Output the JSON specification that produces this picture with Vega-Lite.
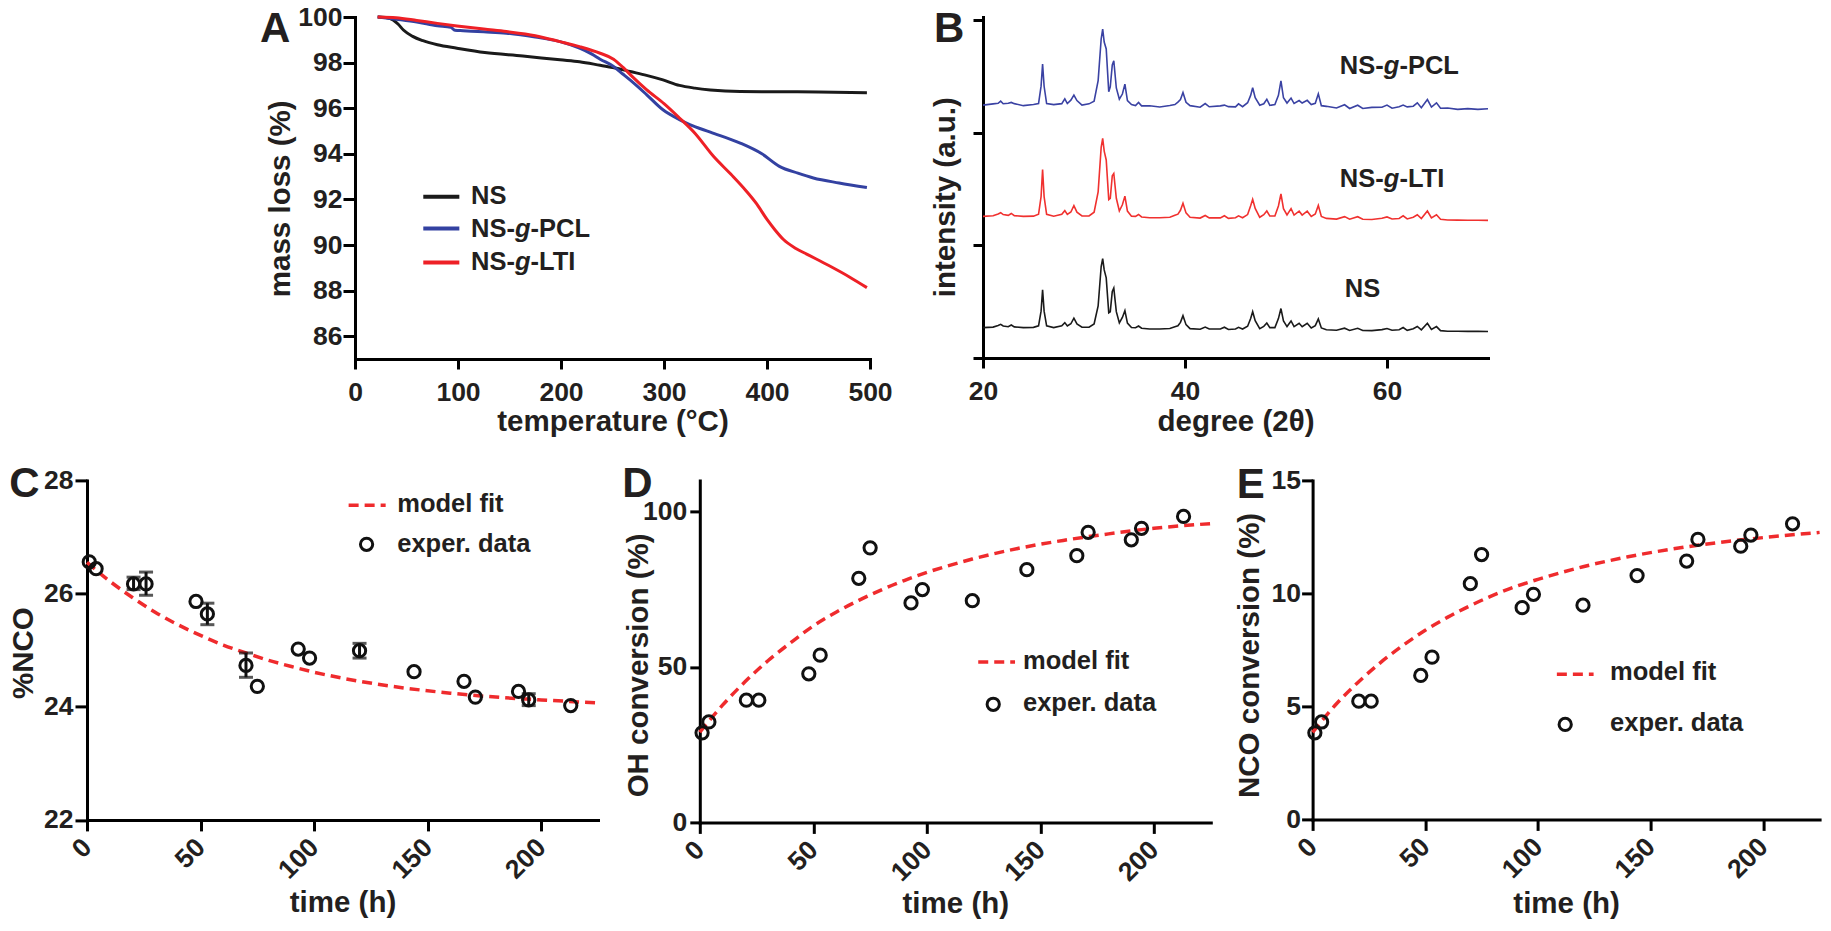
{
"$schema":"https://vega.github.io/schema/vega-lite/v6.json",
"background":"white",
"padding":{"left":8,"top":4,"right":2,"bottom":2},
"autosize":{"type":"pad"},
"spacing":26.4,
"config":{
 "view":{"stroke":null},
 "font":"Liberation Sans",
 "axis":{"domainColor":"#000","domainWidth":3,"domainCap":"square","tickColor":"#000","tickWidth":3,"tickSize":11,"labelFont":"Liberation Sans","labelFontSize":26.5,"labelFontWeight":"bold","labelColor":"#231f20","titleFont":"Liberation Sans","titleFontSize":29.5,"titleFontWeight":"bold","titleColor":"#231f20","grid":false,"labelFlush":false,"labelOverlap":false,"labelBound":false},
 "text":{"font":"Liberation Sans","fontWeight":"bold","fontSize":25.5,"color":"#231f20"}
},
"datasets":{
 "tga":[
  {"s":"NS","x":22,"y":100},{"s":"NS","x":30,"y":99.98},{"s":"NS","x":37,"y":99.87},{"s":"NS","x":42,"y":99.68},{"s":"NS","x":47,"y":99.43},{"s":"NS","x":56,"y":99.15},{"s":"NS","x":66,"y":98.96},{"s":"NS","x":80,"y":98.78},{"s":"NS","x":99,"y":98.63},{"s":"NS","x":126,"y":98.44},{"s":"NS","x":163,"y":98.29},{"s":"NS","x":199,"y":98.12},{"s":"NS","x":218,"y":98.04},{"s":"NS","x":238,"y":97.88},{"s":"NS","x":255,"y":97.74},{"s":"NS","x":267,"y":97.61},{"s":"NS","x":283,"y":97.44},{"s":"NS","x":299,"y":97.24},{"s":"NS","x":315,"y":97.0},{"s":"NS","x":330,"y":96.88},{"s":"NS","x":345,"y":96.8},{"s":"NS","x":374,"y":96.73},{"s":"NS","x":412,"y":96.72},{"s":"NS","x":450,"y":96.71},{"s":"NS","x":497,"y":96.68},
  {"s":"NS-g-PCL","x":22,"y":100},{"s":"NS-g-PCL","x":40,"y":99.9},{"s":"NS-g-PCL","x":60,"y":99.78},{"s":"NS-g-PCL","x":80,"y":99.62},{"s":"NS-g-PCL","x":93,"y":99.55},{"s":"NS-g-PCL","x":97,"y":99.42},{"s":"NS-g-PCL","x":105,"y":99.4},{"s":"NS-g-PCL","x":125,"y":99.35},{"s":"NS-g-PCL","x":147,"y":99.29},{"s":"NS-g-PCL","x":175,"y":99.12},{"s":"NS-g-PCL","x":199,"y":98.92},{"s":"NS-g-PCL","x":218,"y":98.63},{"s":"NS-g-PCL","x":230,"y":98.37},{"s":"NS-g-PCL","x":238,"y":98.15},{"s":"NS-g-PCL","x":251,"y":97.83},{"s":"NS-g-PCL","x":260,"y":97.5},{"s":"NS-g-PCL","x":267,"y":97.24},{"s":"NS-g-PCL","x":283,"y":96.6},{"s":"NS-g-PCL","x":299,"y":95.93},{"s":"NS-g-PCL","x":315,"y":95.5},{"s":"NS-g-PCL","x":325,"y":95.28},{"s":"NS-g-PCL","x":345,"y":94.95},{"s":"NS-g-PCL","x":374,"y":94.47},{"s":"NS-g-PCL","x":395,"y":94.0},{"s":"NS-g-PCL","x":412,"y":93.45},{"s":"NS-g-PCL","x":430,"y":93.15},{"s":"NS-g-PCL","x":445,"y":92.94},{"s":"NS-g-PCL","x":470,"y":92.72},{"s":"NS-g-PCL","x":497,"y":92.52},
  {"s":"NS-g-LTI","x":22,"y":100},{"s":"NS-g-LTI","x":40,"y":99.97},{"s":"NS-g-LTI","x":60,"y":99.85},{"s":"NS-g-LTI","x":80,"y":99.72},{"s":"NS-g-LTI","x":99,"y":99.61},{"s":"NS-g-LTI","x":125,"y":99.47},{"s":"NS-g-LTI","x":147,"y":99.36},{"s":"NS-g-LTI","x":175,"y":99.18},{"s":"NS-g-LTI","x":199,"y":98.92},{"s":"NS-g-LTI","x":218,"y":98.7},{"s":"NS-g-LTI","x":238,"y":98.41},{"s":"NS-g-LTI","x":251,"y":98.15},{"s":"NS-g-LTI","x":260,"y":97.8},{"s":"NS-g-LTI","x":270,"y":97.35},{"s":"NS-g-LTI","x":283,"y":96.81},{"s":"NS-g-LTI","x":300,"y":96.2},{"s":"NS-g-LTI","x":315,"y":95.57},{"s":"NS-g-LTI","x":330,"y":94.9},{"s":"NS-g-LTI","x":348,"y":93.89},{"s":"NS-g-LTI","x":365,"y":93.1},{"s":"NS-g-LTI","x":380,"y":92.36},{"s":"NS-g-LTI","x":390,"y":91.8},{"s":"NS-g-LTI","x":400,"y":91.12},{"s":"NS-g-LTI","x":408,"y":90.65},{"s":"NS-g-LTI","x":416,"y":90.24},{"s":"NS-g-LTI","x":428,"y":89.85},{"s":"NS-g-LTI","x":439,"y":89.59},{"s":"NS-g-LTI","x":460,"y":89.1},{"s":"NS-g-LTI","x":480,"y":88.6},{"s":"NS-g-LTI","x":497,"y":88.13}
 ],
 "xrdNS":[
  {"x":20,"y":0.270},{"x":21,"y":0.274},{"x":21.5,"y":0.289},{"x":21.75,"y":0.299},{"x":22,"y":0.284},{"x":22.5,"y":0.278},{"x":22.8,"y":0.293},{"x":23.1,"y":0.276},{"x":24,"y":0.270},{"x":25,"y":0.272},{"x":25.5,"y":0.286},{"x":25.75,"y":0.416},{"x":25.9,"y":0.606},{"x":26.05,"y":0.416},{"x":26.3,"y":0.286},{"x":27,"y":0.270},{"x":27.8,"y":0.285},{"x":28.1,"y":0.314},{"x":28.35,"y":0.284},{"x":28.7,"y":0.304},{"x":29,"y":0.354},{"x":29.3,"y":0.303},{"x":29.8,"y":0.273},{"x":30.5,"y":0.273},{"x":31,"y":0.302},{"x":31.4,"y":0.462},{"x":31.7,"y":0.812},{"x":31.85,"y":0.882},{"x":32,"y":0.782},{"x":32.2,"y":0.711},{"x":32.45,"y":0.401},{"x":32.6,"y":0.411},{"x":32.8,"y":0.591},{"x":32.95,"y":0.621},{"x":33.2,"y":0.411},{"x":33.5,"y":0.311},{"x":33.8,"y":0.360},{"x":34.05,"y":0.420},{"x":34.3,"y":0.310},{"x":34.7,"y":0.270},{"x":35.1,"y":0.269},{"x":35.4,"y":0.284},{"x":35.7,"y":0.264},{"x":36.5,"y":0.258},{"x":37.5,"y":0.258},{"x":38.5,"y":0.262},{"x":39,"y":0.277},{"x":39.3,"y":0.286},{"x":39.55,"y":0.316},{"x":39.8,"y":0.376},{"x":40.1,"y":0.296},{"x":40.5,"y":0.261},{"x":41.5,"y":0.255},{"x":42,"y":0.275},{"x":42.4,"y":0.257},{"x":43.5,"y":0.257},{"x":43.9,"y":0.273},{"x":44.3,"y":0.253},{"x":45,"y":0.257},{"x":45.3,"y":0.272},{"x":45.7,"y":0.257},{"x":46.2,"y":0.282},{"x":46.5,"y":0.351},{"x":46.7,"y":0.411},{"x":46.95,"y":0.331},{"x":47.4,"y":0.261},{"x":47.8,"y":0.281},{"x":48.1,"y":0.310},{"x":48.4,"y":0.270},{"x":48.9,"y":0.270},{"x":49.25,"y":0.350},{"x":49.5,"y":0.439},{"x":49.75,"y":0.329},{"x":50.1,"y":0.279},{"x":50.5,"y":0.329},{"x":50.8,"y":0.278},{"x":51.3,"y":0.308},{"x":51.6,"y":0.278},{"x":52.1,"y":0.308},{"x":52.5,"y":0.267},{"x":52.9,"y":0.287},{"x":53.2,"y":0.347},{"x":53.5,"y":0.267},{"x":54,"y":0.251},{"x":55,"y":0.246},{"x":55.8,"y":0.265},{"x":56.3,"y":0.245},{"x":57.1,"y":0.264},{"x":57.6,"y":0.244},{"x":58.5,"y":0.243},{"x":59.5,"y":0.252},{"x":60,"y":0.262},{"x":60.5,"y":0.247},{"x":61.2,"y":0.251},{"x":61.6,"y":0.271},{"x":62,"y":0.246},{"x":62.6,"y":0.260},{"x":63,"y":0.280},{"x":63.4,"y":0.250},{"x":64,"y":0.309},{"x":64.4,"y":0.254},{"x":64.9,"y":0.279},{"x":65.3,"y":0.243},{"x":66,"y":0.238},{"x":67,"y":0.237},{"x":68,"y":0.236},{"x":69,"y":0.236},{"x":70,"y":0.235}
 ],
 "xrdLTI":[
  {"x":20,"y":1.257},{"x":21,"y":1.262},{"x":21.5,"y":1.279},{"x":21.75,"y":1.290},{"x":22,"y":1.273},{"x":22.5,"y":1.266},{"x":22.8,"y":1.283},{"x":23.1,"y":1.264},{"x":24,"y":1.257},{"x":25,"y":1.259},{"x":25.5,"y":1.276},{"x":25.75,"y":1.433},{"x":25.9,"y":1.673},{"x":26.05,"y":1.433},{"x":26.3,"y":1.276},{"x":27,"y":1.258},{"x":27.8,"y":1.275},{"x":28.1,"y":1.308},{"x":28.35,"y":1.274},{"x":28.7,"y":1.296},{"x":29,"y":1.353},{"x":29.3,"y":1.295},{"x":29.8,"y":1.261},{"x":30.5,"y":1.261},{"x":31,"y":1.294},{"x":31.4,"y":1.475},{"x":31.7,"y":1.869},{"x":31.85,"y":1.949},{"x":32,"y":1.837},{"x":32.2,"y":1.758},{"x":32.45,"y":1.406},{"x":32.6,"y":1.418},{"x":32.8,"y":1.618},{"x":32.95,"y":1.638},{"x":33.2,"y":1.418},{"x":33.5,"y":1.305},{"x":33.8,"y":1.360},{"x":34.05,"y":1.437},{"x":34.3,"y":1.304},{"x":34.7,"y":1.258},{"x":35.1,"y":1.257},{"x":35.4,"y":1.274},{"x":35.7,"y":1.252},{"x":36.5,"y":1.245},{"x":37.5,"y":1.245},{"x":38.5,"y":1.250},{"x":39,"y":1.267},{"x":39.3,"y":1.277},{"x":39.55,"y":1.311},{"x":39.8,"y":1.373},{"x":40.1,"y":1.288},{"x":40.5,"y":1.249},{"x":41.5,"y":1.242},{"x":42,"y":1.265},{"x":42.4,"y":1.244},{"x":43.5,"y":1.244},{"x":43.9,"y":1.263},{"x":44.3,"y":1.240},{"x":45,"y":1.245},{"x":45.3,"y":1.262},{"x":45.7,"y":1.245},{"x":46.2,"y":1.273},{"x":46.5,"y":1.351},{"x":46.7,"y":1.408},{"x":46.95,"y":1.328},{"x":47.4,"y":1.249},{"x":47.8,"y":1.272},{"x":48.1,"y":1.305},{"x":48.4,"y":1.260},{"x":48.9,"y":1.260},{"x":49.25,"y":1.350},{"x":49.5,"y":1.456},{"x":49.75,"y":1.326},{"x":50.1,"y":1.270},{"x":50.5,"y":1.326},{"x":50.8,"y":1.269},{"x":51.3,"y":1.303},{"x":51.6,"y":1.269},{"x":52.1,"y":1.303},{"x":52.5,"y":1.257},{"x":52.9,"y":1.279},{"x":53.2,"y":1.354},{"x":53.5,"y":1.257},{"x":54,"y":1.239},{"x":55,"y":1.233},{"x":55.8,"y":1.255},{"x":56.3,"y":1.232},{"x":57.1,"y":1.254},{"x":57.6,"y":1.231},{"x":58.5,"y":1.230},{"x":59.5,"y":1.240},{"x":60,"y":1.252},{"x":60.5,"y":1.234},{"x":61.2,"y":1.239},{"x":61.6,"y":1.262},{"x":62,"y":1.234},{"x":62.6,"y":1.250},{"x":63,"y":1.272},{"x":63.4,"y":1.238},{"x":64,"y":1.305},{"x":64.4,"y":1.243},{"x":64.9,"y":1.271},{"x":65.3,"y":1.231},{"x":66,"y":1.225},{"x":67,"y":1.224},{"x":68,"y":1.223},{"x":69,"y":1.223},{"x":70,"y":1.222}
 ],
 "xrdPCL":[
  {"x":20,"y":2.245},{"x":21,"y":2.256},{"x":21.5,"y":2.261},{"x":21.75,"y":2.280},{"x":22,"y":2.257},{"x":22.5,"y":2.261},{"x":22.8,"y":2.269},{"x":23.1,"y":2.258},{"x":24,"y":2.240},{"x":25,"y":2.250},{"x":25.5,"y":2.259},{"x":25.75,"y":2.413},{"x":25.9,"y":2.609},{"x":26.05,"y":2.412},{"x":26.3,"y":2.258},{"x":27,"y":2.249},{"x":27.8,"y":2.258},{"x":28.1,"y":2.301},{"x":28.35,"y":2.259},{"x":28.7,"y":2.289},{"x":29,"y":2.333},{"x":29.3,"y":2.285},{"x":29.8,"y":2.245},{"x":30.5,"y":2.256},{"x":31,"y":2.279},{"x":31.4,"y":2.463},{"x":31.7,"y":2.832},{"x":31.85,"y":2.920},{"x":32,"y":2.805},{"x":32.2,"y":2.743},{"x":32.45,"y":2.364},{"x":32.6,"y":2.407},{"x":32.8,"y":2.601},{"x":32.95,"y":2.639},{"x":33.2,"y":2.397},{"x":33.5,"y":2.298},{"x":33.8,"y":2.343},{"x":34.05,"y":2.431},{"x":34.3,"y":2.285},{"x":34.7,"y":2.249},{"x":35.1,"y":2.241},{"x":35.4,"y":2.269},{"x":35.7,"y":2.238},{"x":36.5,"y":2.239},{"x":37.5,"y":2.228},{"x":38.5,"y":2.241},{"x":39,"y":2.250},{"x":39.3,"y":2.271},{"x":39.55,"y":2.295},{"x":39.8,"y":2.357},{"x":40.1,"y":2.270},{"x":40.5,"y":2.240},{"x":41.5,"y":2.226},{"x":42,"y":2.259},{"x":42.4,"y":2.230},{"x":43.5,"y":2.238},{"x":43.9,"y":2.245},{"x":44.3,"y":2.231},{"x":45,"y":2.229},{"x":45.3,"y":2.256},{"x":45.7,"y":2.231},{"x":46.2,"y":2.266},{"x":46.5,"y":2.331},{"x":46.7,"y":2.399},{"x":46.95,"y":2.310},{"x":47.4,"y":2.244},{"x":47.8,"y":2.257},{"x":48.1,"y":2.297},{"x":48.4,"y":2.242},{"x":48.9,"y":2.250},{"x":49.25,"y":2.331},{"x":49.5,"y":2.461},{"x":49.75,"y":2.310},{"x":50.1,"y":2.263},{"x":50.5,"y":2.307},{"x":50.8,"y":2.259},{"x":51.3,"y":2.285},{"x":51.6,"y":2.263},{"x":52.1,"y":2.287},{"x":52.5,"y":2.250},{"x":52.9,"y":2.261},{"x":53.2,"y":2.345},{"x":53.5,"y":2.240},{"x":54,"y":2.234},{"x":55,"y":2.219},{"x":55.8,"y":2.248},{"x":56.3,"y":2.215},{"x":57.1,"y":2.244},{"x":57.6,"y":2.215},{"x":58.5,"y":2.225},{"x":59.5,"y":2.226},{"x":60,"y":2.245},{"x":60.5,"y":2.217},{"x":61.2,"y":2.230},{"x":61.6,"y":2.245},{"x":62,"y":2.229},{"x":62.6,"y":2.235},{"x":63,"y":2.265},{"x":63.4,"y":2.221},{"x":64,"y":2.294},{"x":64.4,"y":2.227},{"x":64.9,"y":2.265},{"x":65.3,"y":2.217},{"x":66,"y":2.219},{"x":67,"y":2.207},{"x":68,"y":2.214},{"x":69,"y":2.207},{"x":70,"y":2.212}
 ]
},
"vconcat":[
 {"hconcat":[
  {"width":154.3,"height":342,"data":{"values":[{"a":0}]},"mark":{"type":"text","text":""}},
  {"width":515,"height":342,
   "encoding":{
    "x":{"field":"x","type":"quantitative","scale":{"domain":[0,500],"nice":false,"zero":false},"axis":{"values":[0,100,200,300,400,500],"title":"temperature (°C)","labelPadding":10,"tickSize":10,"titleBaseline":"alphabetic","titleY":71}},
    "y":{"field":"y","type":"quantitative","scale":{"domain":[85,100],"nice":false,"zero":false},"axis":{"values":[86,88,90,92,94,96,98,100],"title":"mass loss (%)","tickSize":12,"labelPadding":1,"titleX":-60,"titleY":181.3}}
   },
   "layer":[
    {"data":{"name":"tga"},"mark":{"type":"line","strokeWidth":3,"interpolate":"monotone"},"encoding":{"color":{"field":"s","type":"nominal","scale":{"domain":["NS","NS-g-PCL","NS-g-LTI"],"range":["#1a1a1a","#3341a1","#ee2026"]},"legend":null}}},
    {"data":{"values":[{"s":"NS","x":66.3,"x2":101.3,"y":92.12},{"s":"NS-g-PCL","x":66.3,"x2":101.3,"y":90.72},{"s":"NS-g-LTI","x":66.3,"x2":101.3,"y":89.23}]},"mark":{"type":"rule","strokeWidth":4},"encoding":{"x2":{"field":"x2"},"color":{"field":"s","type":"nominal","legend":null}}},
    {"data":{"values":[{"x":112.7,"y":92.15,"t":"NS"},{"x":112.7,"y":90.72,"t":"NS-"},{"x":170.4,"y":90.72,"t":"-PCL"},{"x":112.7,"y":89.25,"t":"NS-"},{"x":170.4,"y":89.25,"t":"-LTI"}]},"mark":{"type":"text","align":"left","baseline":"middle"},"encoding":{"text":{"field":"t"}}},
    {"data":{"values":[{"x":155.3,"y":90.72,"t":"g"},{"x":155.3,"y":89.25,"t":"g"}]},"mark":{"type":"text","align":"left","baseline":"middle","fontStyle":"italic"},"encoding":{"text":{"field":"t"}}},
    {"data":{"values":[{"x":-92.2,"y":98.92,"t":"A"}]},"mark":{"type":"text","align":"left","baseline":"alphabetic","fontSize":42},"encoding":{"text":{"field":"t"}}}
   ]
  },
  {"width":505,"height":341,
   "encoding":{
    "x":{"field":"x","type":"quantitative","scale":{"domain":[20,70],"nice":false,"zero":false},"axis":{"values":[20,40,60],"title":"degree (2θ)","labelPadding":10,"tickSize":10,"titleBaseline":"alphabetic","titleY":72}},
    "y":{"field":"y","type":"quantitative","scale":{"domain":[0,3.027],"nice":false,"zero":false},"axis":{"values":[0,1,2,3],"labels":false,"title":"intensity (a.u.)","tickSize":10,"titleX":-23,"titleY":179.7}}
   },
   "layer":[
    {"data":{"name":"xrdNS"},"mark":{"type":"line","strokeWidth":1.6,"color":"#1a1a1a"}},
    {"data":{"name":"xrdLTI"},"mark":{"type":"line","strokeWidth":1.6,"color":"#f0312f"}},
    {"data":{"name":"xrdPCL"},"mark":{"type":"line","strokeWidth":1.6,"color":"#3a42a3"}},
    {"data":{"values":[{"x":55.82,"y":0.612,"t":"NS"},{"x":55.33,"y":1.589,"t":"NS-"},{"x":61.23,"y":1.589,"t":"-LTI"},{"x":55.33,"y":2.594,"t":"NS-"},{"x":61.23,"y":2.594,"t":"-PCL"}]},"mark":{"type":"text","align":"left","baseline":"middle"},"encoding":{"text":{"field":"t"}}},
    {"data":{"values":[{"x":59.68,"y":1.589,"t":"g"},{"x":59.68,"y":2.594,"t":"g"}]},"mark":{"type":"text","align":"left","baseline":"middle","fontStyle":"italic"},"encoding":{"text":{"field":"t"}}},
    {"data":{"values":[{"x":15.14,"y":2.808,"t":"B"}]},"mark":{"type":"text","align":"left","baseline":"alphabetic","fontSize":42},"encoding":{"text":{"field":"t"}}}
   ]
  }
 ],"spacing":113,"bounds":"flush"},
 {"hconcat":[
  {"width":511,"height":339.5,
   "encoding":{
    "x":{"field":"x","type":"quantitative","scale":{"domain":[0,225],"nice":false,"zero":false},"axis":{"values":[0,50,100,150,200],"title":"time (h)","labelAngle":-45,"labelAlign":"right","labelBaseline":"middle","labelPadding":12,"titleBaseline":"alphabetic","titleY":92}},
    "y":{"field":"y","type":"quantitative","scale":{"domain":[22,28],"nice":false,"zero":false},"axis":{"values":[22,24,26,28],"title":"%NCO","tickSize":12,"labelPadding":2,"titleX":-48.7,"titleY":172.2}}
   },
   "layer":[
    {"data":{"values":[{"x":0,"y":26.55},{"x":10,"y":26.22},{"x":20,"y":25.93},{"x":30,"y":25.67},{"x":40,"y":25.45},{"x":50,"y":25.26},{"x":60,"y":25.09},{"x":70,"y":24.95},{"x":80,"y":24.82},{"x":90,"y":24.71},{"x":100,"y":24.61},{"x":120,"y":24.45},{"x":140,"y":24.33},{"x":160,"y":24.24},{"x":180,"y":24.17},{"x":200,"y":24.12},{"x":225,"y":24.07}]},"mark":{"type":"line","color":"#ef2b2d","strokeWidth":3.5,"strokeDash":[10,6],"interpolate":"monotone"}},
    {"data":{"values":[{"x":20.5,"y":26.07,"y2":26.29},{"x":26,"y":25.97,"y2":26.38},{"x":53,"y":25.45,"y2":25.83},{"x":70,"y":24.52,"y2":24.95},{"x":120,"y":24.86,"y2":25.12},{"x":194.5,"y":24.02,"y2":24.23}]},"mark":{"type":"rule","color":"#111","strokeWidth":3},"encoding":{"y2":{"field":"y2"}}},
    {"data":{"values":[{"x":20.5,"y":26.07},{"x":20.5,"y":26.29},{"x":26,"y":25.97},{"x":26,"y":26.38},{"x":53,"y":25.45},{"x":53,"y":25.83},{"x":70,"y":24.52},{"x":70,"y":24.95},{"x":120,"y":24.86},{"x":120,"y":25.12},{"x":194.5,"y":24.02},{"x":194.5,"y":24.23}]},"mark":{"type":"tick","orient":"horizontal","color":"#111","size":14,"thickness":3}},
    {"data":{"values":[{"x":1,"y":26.56},{"x":4,"y":26.44},{"x":20.5,"y":26.17},{"x":26,"y":26.17},{"x":48,"y":25.86},{"x":53,"y":25.64},{"x":70,"y":24.73},{"x":75,"y":24.36},{"x":93,"y":25.02},{"x":98,"y":24.86},{"x":120,"y":24.99},{"x":144,"y":24.62},{"x":166,"y":24.45},{"x":171,"y":24.17},{"x":190,"y":24.27},{"x":194.5,"y":24.12},{"x":213,"y":24.02}]},"mark":{"type":"point","shape":"circle","filled":false,"color":"#111","strokeWidth":3,"size":150,"opacity":1}},
    {"data":{"values":[{"x":115.2,"x2":131.5,"y":27.56}]},"mark":{"type":"rule","color":"#ef2b2d","strokeWidth":3.5,"strokeDash":[10,6]},"encoding":{"x2":{"field":"x2"}}},
    {"data":{"values":[{"x":123.1,"y":26.87}]},"mark":{"type":"point","shape":"circle","filled":false,"color":"#111","strokeWidth":3,"size":150,"opacity":1}},
    {"data":{"values":[{"x":136.6,"y":27.58,"t":"model fit"},{"x":136.6,"y":26.87,"t":"exper. data"}]},"mark":{"type":"text","align":"left","baseline":"middle"},"encoding":{"text":{"field":"t"}}},
    {"data":{"values":[{"x":-34.2,"y":27.7,"t":"C"}]},"mark":{"type":"text","align":"left","baseline":"alphabetic","fontSize":42},"encoding":{"text":{"field":"t"}}}
   ]
  },
  {"width":511,"height":342,
   "encoding":{
    "x":{"field":"x","type":"quantitative","scale":{"domain":[0,225],"nice":false,"zero":false},"axis":{"values":[0,50,100,150,200],"title":"time (h)","labelAngle":-45,"labelAlign":"right","labelBaseline":"middle","labelPadding":12,"titleBaseline":"alphabetic","titleY":90.5}},
    "y":{"field":"y","type":"quantitative","scale":{"domain":[0,110],"nice":false,"zero":false},"axis":{"values":[0,50,100],"title":"OH conversion (%)","tickSize":10,"labelPadding":3,"titleX":-46.7,"titleY":184.5}}
   },
   "layer":[
    {"data":{"values":[{"x":0,"y":29},{"x":10,"y":37.7},{"x":20,"y":45.3},{"x":30,"y":52.0},{"x":40,"y":57.8},{"x":50,"y":63.2},{"x":60,"y":67.6},{"x":70,"y":71.4},{"x":80,"y":74.8},{"x":90,"y":77.8},{"x":100,"y":80.4},{"x":120,"y":84.7},{"x":140,"y":88.1},{"x":160,"y":90.7},{"x":180,"y":92.8},{"x":200,"y":94.6},{"x":225,"y":96.1}]},"mark":{"type":"line","color":"#ef2b2d","strokeWidth":3.5,"strokeDash":[10,6],"interpolate":"monotone"}},
    {"data":{"values":[{"x":1,"y":28.8},{"x":4,"y":32.3},{"x":20.5,"y":39.3},{"x":26,"y":39.3},{"x":48,"y":47.8},{"x":53,"y":53.8},{"x":70,"y":78.5},{"x":75,"y":88.3},{"x":93,"y":70.6},{"x":98,"y":74.9},{"x":120,"y":71.3},{"x":144,"y":81.3},{"x":166,"y":85.8},{"x":171,"y":93.3},{"x":190,"y":90.9},{"x":194.5,"y":94.6},{"x":213,"y":98.4}]},"mark":{"type":"point","shape":"circle","filled":false,"color":"#111","strokeWidth":3,"size":150,"opacity":1}},
    {"data":{"values":[{"x":122.6,"x2":138.8,"y":51.6}]},"mark":{"type":"rule","color":"#ef2b2d","strokeWidth":3.5,"strokeDash":[10,6]},"encoding":{"x2":{"field":"x2"}}},
    {"data":{"values":[{"x":129.2,"y":38.0}]},"mark":{"type":"point","shape":"circle","filled":false,"color":"#111","strokeWidth":3,"size":150,"opacity":1}},
    {"data":{"values":[{"x":142.3,"y":51.9,"t":"model fit"},{"x":142.3,"y":38.4,"t":"exper. data"}]},"mark":{"type":"text","align":"left","baseline":"middle"},"encoding":{"text":{"field":"t"}}},
    {"data":{"values":[{"x":-34.2,"y":104.6,"t":"D"}]},"mark":{"type":"text","align":"left","baseline":"alphabetic","fontSize":42},"encoding":{"text":{"field":"t"}}}
   ]
  },
  {"width":507,"height":339,
   "encoding":{
    "x":{"field":"x","type":"quantitative","scale":{"domain":[0,225],"nice":false,"zero":false},"axis":{"values":[0,50,100,150,200],"title":"time (h)","labelAngle":-45,"labelAlign":"right","labelBaseline":"middle","labelPadding":12,"titleBaseline":"alphabetic","titleY":93.5}},
    "y":{"field":"y","type":"quantitative","scale":{"domain":[0,15],"nice":false,"zero":false},"axis":{"values":[0,5,10,15],"title":"NCO conversion (%)","tickSize":11,"labelPadding":1,"titleX":-47.7,"titleY":174.5}}
   },
   "layer":[
    {"data":{"values":[{"x":0,"y":3.85},{"x":10,"y":5.05},{"x":20,"y":6.05},{"x":30,"y":6.93},{"x":40,"y":7.69},{"x":50,"y":8.37},{"x":60,"y":8.95},{"x":70,"y":9.46},{"x":80,"y":9.91},{"x":90,"y":10.3},{"x":100,"y":10.62},{"x":120,"y":11.18},{"x":140,"y":11.62},{"x":160,"y":11.97},{"x":180,"y":12.25},{"x":200,"y":12.47},{"x":225,"y":12.7}]},"mark":{"type":"line","color":"#ef2b2d","strokeWidth":3.5,"strokeDash":[10,6],"interpolate":"monotone"}},
    {"data":{"values":[{"x":1,"y":3.83},{"x":4,"y":4.31},{"x":20.5,"y":5.23},{"x":26,"y":5.23},{"x":48,"y":6.37},{"x":53,"y":7.18},{"x":70,"y":10.43},{"x":75,"y":11.72},{"x":93,"y":9.37},{"x":98,"y":9.96},{"x":120,"y":9.48},{"x":144,"y":10.79},{"x":166,"y":11.43},{"x":171,"y":12.39},{"x":190,"y":12.09},{"x":194.5,"y":12.58},{"x":213,"y":13.08}]},"mark":{"type":"point","shape":"circle","filled":false,"color":"#111","strokeWidth":3,"size":150,"opacity":1}},
    {"data":{"values":[{"x":108.4,"x2":124.7,"y":6.42}]},"mark":{"type":"rule","color":"#ef2b2d","strokeWidth":3.5,"strokeDash":[10,6]},"encoding":{"x2":{"field":"x2"}}},
    {"data":{"values":[{"x":112.1,"y":4.2}]},"mark":{"type":"point","shape":"circle","filled":false,"color":"#111","strokeWidth":3,"size":150,"opacity":1}},
    {"data":{"values":[{"x":132.0,"y":6.54,"t":"model fit"},{"x":132.0,"y":4.27,"t":"exper. data"}]},"mark":{"type":"text","align":"left","baseline":"middle"},"encoding":{"text":{"field":"t"}}},
    {"data":{"values":[{"x":-33.7,"y":14.23,"t":"E"}]},"mark":{"type":"text","align":"left","baseline":"alphabetic","fontSize":42},"encoding":{"text":{"field":"t"}}}
   ]
  }
 ],"spacing":101.8,"bounds":"flush"}
]
}
